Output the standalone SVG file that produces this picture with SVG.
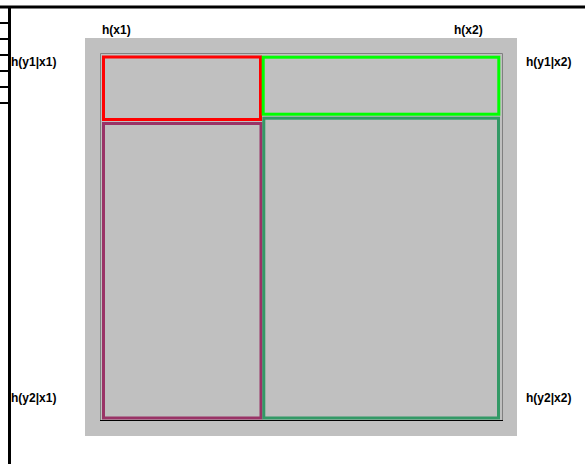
<svg xmlns="http://www.w3.org/2000/svg" width="585" height="464" viewBox="0 0 585 464">
<style>
.lbl{font-family:"Liberation Sans",Arial,sans-serif;font-size:12px;font-weight:bold;fill:#000}
.frame{stroke:#000;fill:none}
.cell{fill:none;stroke-width:3}
</style>
<rect x="0" y="0" width="585" height="464" fill="#fff"/>
<g id="frame">
<line class="frame" x1="0" y1="7" x2="585" y2="7" stroke-width="3"/>
<line class="frame" x1="9.5" y1="6" x2="9.5" y2="464" stroke-width="3"/>
<line class="frame" x1="0" y1="23" x2="9" y2="23" stroke-width="2"/>
<line class="frame" x1="0" y1="39" x2="9" y2="39" stroke-width="2"/>
<line class="frame" x1="0" y1="55" x2="9" y2="55" stroke-width="2"/>
<line class="frame" x1="0" y1="71" x2="9" y2="71" stroke-width="2"/>
<line class="frame" x1="0" y1="87" x2="9" y2="87" stroke-width="2"/>
<line class="frame" x1="0" y1="103" x2="9" y2="103" stroke-width="2"/>
</g>
<g id="panel">
<rect x="85" y="38" width="432" height="398" fill="#c0c0c0"/>
<path d="M100.5 420 V53.5 H502.5 V420" fill="none" stroke="#808080" stroke-width="1"/>
<line x1="100" y1="420.5" x2="503" y2="420.5" stroke="#000" stroke-width="1.2"/>
</g>
<g id="cell-y1x1"><rect class="cell" x="103.5" y="57" width="157" height="62.5" stroke="#ff0000"/></g>
<g id="cell-y1x2"><rect class="cell" x="263.2" y="57.2" width="235.6" height="57" stroke="#00ff00"/></g>
<g id="cell-y2x1"><rect class="cell" x="103.5" y="123.5" width="157.5" height="294.5" stroke="#993366"/></g>
<g id="cell-y2x2"><rect class="cell" x="263.8" y="118.2" width="234.7" height="299.8" stroke="#339966"/></g>
<g id="connectors"/>
<g id="labels">
<text class="lbl" x="102" y="34">h(x1)</text>
<text class="lbl" x="454" y="34">h(x2)</text>
<text class="lbl" x="11" y="66">h(y1|x1)</text>
<text class="lbl" x="11" y="402">h(y2|x1)</text>
<text class="lbl" x="526" y="66">h(y1|x2)</text>
<text class="lbl" x="526" y="402">h(y2|x2)</text>
</g>
</svg>
